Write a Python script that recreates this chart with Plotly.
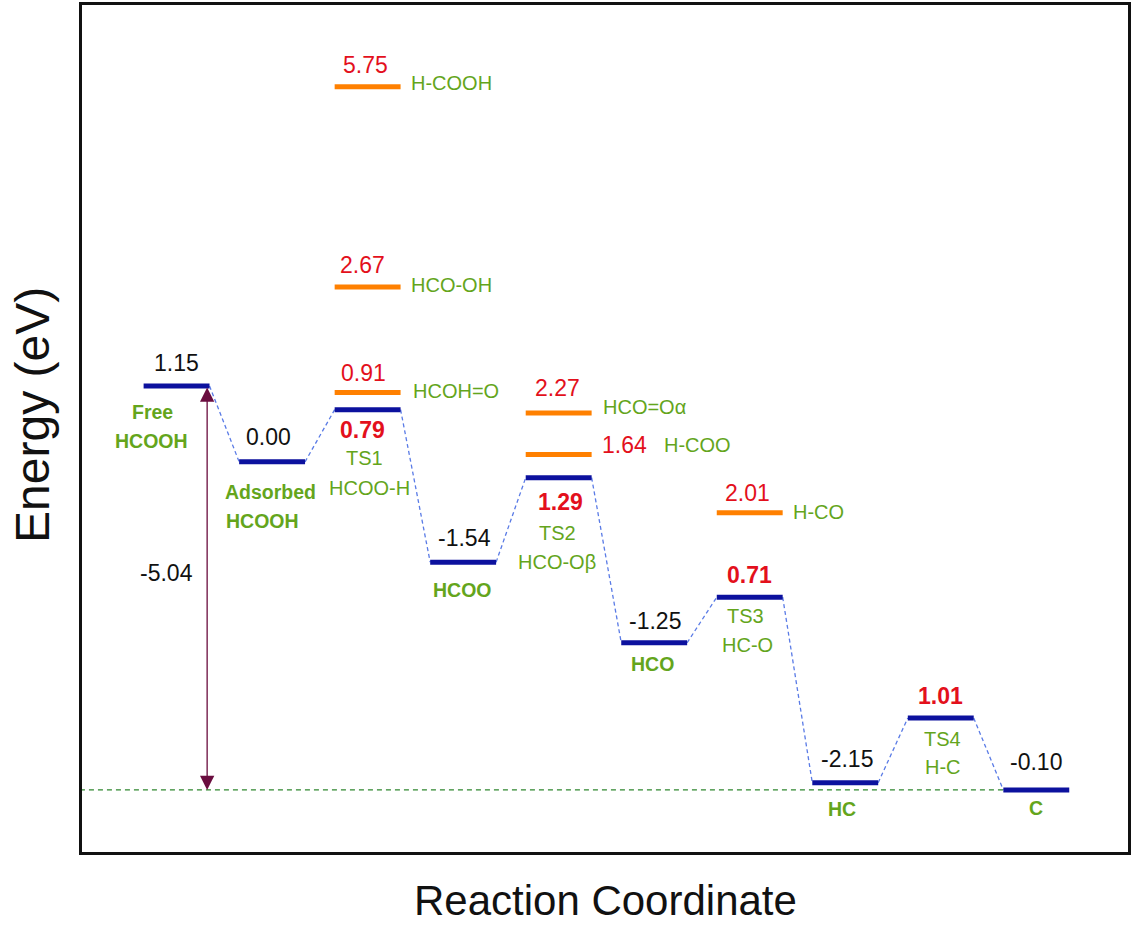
import plotly.graph_objects as go

# ---------------- data ----------------
stage_idx = [0, 1, 2, 3, 4, 5, 6, 7, 8, 9]
stage_energy = [1.15, 0.00, 0.79, -1.52, -0.24, -2.74, -2.05, -4.86, -3.88, -4.97]   # level heights
stage_value = ["1.15", "0.00", "0.79", "-1.54", "1.29", "-1.25", "0.71", "-2.15", "1.01", "-0.10"]
stage_name1 = ["Free", "Adsorbed", "TS1", "HCOO", "TS2", "HCO", "TS3", "HC", "TS4", "C"]
stage_name2 = ["HCOOH", "HCOOH", "HCOO-H", "", "HCO-Oβ", "", "HC-O", "", "H-C", ""]
stage_is_ts = [False, False, True, False, True, False, True, False, True, False]

alt_idx = [2, 2, 2, 4, 4, 6]
alt_energy = [5.68, 2.65, 1.05, 0.74, 0.11, -0.77]
alt_value = ["5.75", "2.67", "0.91", "2.27", "1.64", "2.01"]
alt_name = ["H-COOH", "HCO-OH", "HCOH=O", "HCO=Oα", "H-COO", "H-CO"]

desorption_value = "-5.04"

# ---------------- style ----------------
FONT = "Liberation Sans, Arial, sans-serif"
BLUE = "#0c119e"
ORANGE = "#ff8000"
RED = "#e3101c"
GREEN = "#64a51c"
CONN = "#5a7be6"
ARROW = "#6a0d3f"
HW = 0.345  # half width of a level bar (x units)
NUM = 23
LAB = 20

fig = go.Figure()

# connectors
cx, cy = [], []
for i in range(len(stage_idx) - 1):
    cx += [stage_idx[i] + HW, stage_idx[i + 1] - HW, None]
    cy += [stage_energy[i], stage_energy[i + 1], None]
fig.add_trace(go.Scatter(x=cx, y=cy, mode="lines", hoverinfo="skip",
                         line=dict(color=CONN, width=1.3, dash="4px,3px")))

# baseline
fig.add_trace(go.Scatter(x=[-1.2, stage_idx[-1]], y=[stage_energy[-1], stage_energy[-1]],
                         mode="lines", hoverinfo="skip",
                         line=dict(color="#2f872f", width=1.2, dash="5px,4px")))

# orange levels
ox, oy = [], []
for i, e in zip(alt_idx, alt_energy):
    ox += [i - HW, i + HW, None]
    oy += [e, e, None]
fig.add_trace(go.Scatter(x=ox, y=oy, mode="lines", hoverinfo="skip",
                         line=dict(color=ORANGE, width=5)))

# blue levels
bx, by = [], []
for i, e in zip(stage_idx, stage_energy):
    bx += [i - HW, i + HW, None]
    by += [e, e, None]
fig.add_trace(go.Scatter(x=bx, y=by, mode="lines", hoverinfo="skip",
                         line=dict(color=BLUE, width=5)))


def ann(x, y, text, color, size, bold=False, dx=0, dy=0, xanchor="center"):
    t = f"<b>{text}</b>" if bold else text
    fig.add_annotation(x=x, y=y, xref="x", yref="y", text=t, showarrow=False,
                       xanchor=xanchor, yanchor="middle", xshift=dx, yshift=-dy,
                       font=dict(family=FONT, size=size, color=color))

# per-stage label offsets (pixels): value, name1, name2
val_off = [(0, -23), (-4, -25), (-5, 20), (1, -24), (2, 24), (1, -22), (0, -22), (2, -24), (0, -22), (0, -28)]
n1_off = [(-24, 26), (-2, 30), (-3, 48), (-1, 28), (-1, 55), (-2, 21), (-4, 19), (-3, 26), (2, 21), (0, 18)]
n2_off = [(-25, 55), (-10, 59), (2, 78), (0, 0), (-2, 84), (0, 0), (-2, 48), (0, 0), (2, 49), (0, 0)]

for k, (i, e) in enumerate(zip(stage_idx, stage_energy)):
    if stage_is_ts[k]:
        ann(i, e, stage_value[k], RED, NUM, bold=True, dx=val_off[k][0], dy=val_off[k][1])
        ann(i, e, stage_name1[k], GREEN, LAB, dx=n1_off[k][0], dy=n1_off[k][1])
        ann(i, e, stage_name2[k], GREEN, LAB, dx=n2_off[k][0], dy=n2_off[k][1])
    else:
        ann(i, e, stage_value[k], "#111111", NUM, dx=val_off[k][0], dy=val_off[k][1])
        ann(i, e, stage_name1[k], GREEN, LAB - 0.5, bold=True, dx=n1_off[k][0], dy=n1_off[k][1])
        if stage_name2[k]:
            ann(i, e, stage_name2[k], GREEN, LAB - 0.5, bold=True, dx=n2_off[k][0], dy=n2_off[k][1])

# orange labels: value (centered above or right), name (left anchored to right)
alt_val_off = [(-2, -22, "center"), (-5, -22, "center"), (-4, -20, "center"),
               (-1, -25, "center"), (41, -10, "left"), (-2, -20, "center")]
alt_name_off = [(41, -4), (41, -2), (43, -2), (42, -6), (103, -10), (41, -1)]
for k, (i, e) in enumerate(zip(alt_idx, alt_energy)):
    dx, dy, xa = alt_val_off[k]
    ann(i, e, alt_value[k], RED, NUM, dx=dx, dy=dy, xanchor=xa)
    ann(i, e, alt_name[k], GREEN, LAB, dx=alt_name_off[k][0], dy=alt_name_off[k][1], xanchor="left")

# desorption double arrow
ax_x = stage_idx[0] + 0.32
fig.add_annotation(x=ax_x, y=stage_energy[-1], ax=ax_x, ay=stage_energy[0],
                   xref="x", yref="y", axref="x", ayref="y", text="", showarrow=True,
                   arrowside="end+start", arrowhead=2, arrowsize=2.2, arrowwidth=1.3,
                   arrowcolor=ARROW, standoff=0, startstandoff=0)
ann(ax_x, (stage_energy[0] + stage_energy[-1]) / 2, desorption_value, "#111111", NUM, dx=-41, dy=-15)

# axis titles
fig.add_annotation(xref="paper", yref="paper", x=0.5, y=0, yanchor="middle", xanchor="center",
                   yshift=-48, text="Reaction Coordinate",
                   showarrow=False, font=dict(family=FONT, size=42, color="#111111"))
fig.add_annotation(xref="paper", yref="paper", x=0, y=0.516, xanchor="center", yanchor="middle",
                   xshift=-49, text="Energy (eV)", textangle=-90,
                   showarrow=False, font=dict(family=FONT, size=48, color="#111111"))

fig.update_layout(
    width=1132, height=926,
    margin=dict(l=82, r=1, t=5, b=74),
    paper_bgcolor="white", plot_bgcolor="white",
    showlegend=False,
    xaxis=dict(range=[-0.99, 9.96], showgrid=False, zeroline=False, showticklabels=False,
               ticks="", showline=True, mirror=True, linecolor="#111111", linewidth=3),
    yaxis=dict(range=[-5.91, 6.92], showgrid=False, zeroline=False, showticklabels=False,
               ticks="", showline=True, mirror=True, linecolor="#111111", linewidth=3),
)

fig.write_html("out.html")
